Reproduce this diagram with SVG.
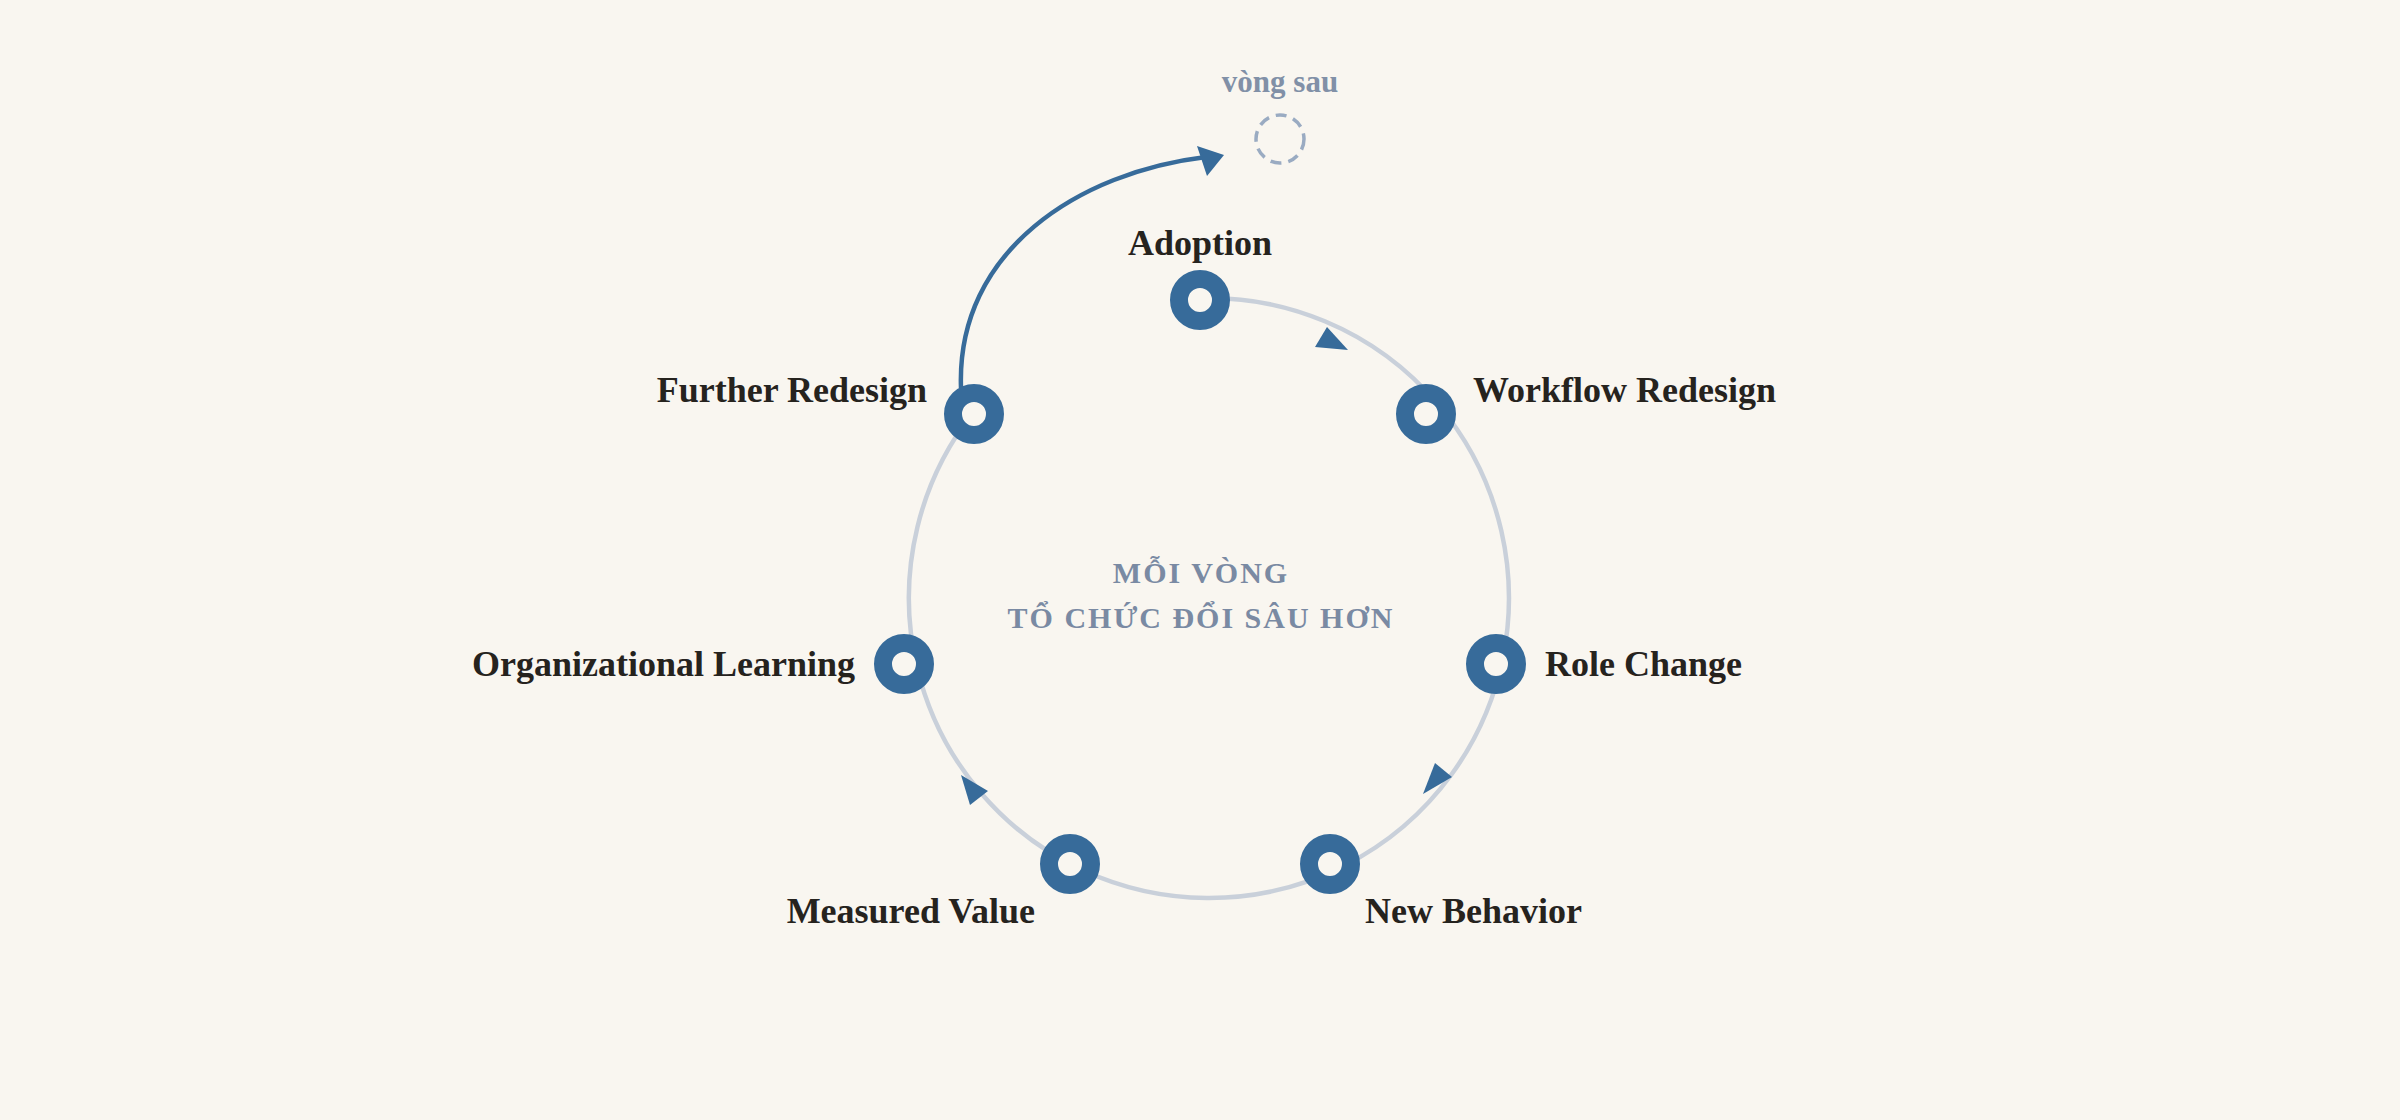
<svg xmlns="http://www.w3.org/2000/svg" width="2400" height="1120" viewBox="0 0 2400 1120">
  <style>
    .track { fill: none; stroke: #c9d0da; stroke-width: 4.5; }
    .lift { fill: none; stroke: #376b9a; stroke-width: 4.5; }
    .head { fill: #376b9a; }
    .ring { fill: #f9f6f0; stroke: #376b9a; stroke-width: 18; }
    .label { font-family: "Liberation Serif", "DejaVu Serif", serif; font-weight: 700; font-size: 36px; fill: #26231e; }
    .center { font-family: "Liberation Serif", "DejaVu Serif", serif; font-weight: 700; font-size: 30px; fill: #7a8aa3; letter-spacing: 2px; }
    .next { font-family: "Liberation Serif", "DejaVu Serif", serif; font-weight: 700; font-size: 31px; fill: #8190a7; }
    .ghost { fill: none; stroke: #9aabc2; stroke-width: 3.5; stroke-dasharray: 11 7; }
  </style>
  <rect x="0" y="0" width="2400" height="1120" fill="#f9f6f0"/>

  <g id="connectors">
    <!-- cycle track, clockwise from Adoption round to Further Redesign -->
    <path class="track" d="M 1200 298.1 A 300 300 0 1 1 972.8 412.9"/>
    <!-- direction heads on the track -->
    <polygon class="head" points="1348,350 1315,347 1327,327"/>
    <polygon class="head" points="1423,794 1435,763 1452,777"/>
    <polygon class="head" points="961,775 988,791 970,805"/>
    <!-- lift into the next cycle -->
    <path class="lift" d="M 961 388 C 956 250, 1080 172, 1206 157"/>
    <polygon class="head" points="1224,155 1197,146 1207,176"/>
  </g>

  <g id="next-cycle">
    <circle class="ghost" cx="1280" cy="139" r="24"/>
    <text class="next" x="1280" y="92" text-anchor="middle">vòng sau</text>
  </g>

  <g id="center-caption">
    <text class="center" x="1201" y="583" text-anchor="middle">MỖI VÒNG</text>
    <text class="center" x="1201" y="628" text-anchor="middle">TỔ CHỨC ĐỔI SÂU HƠN</text>
  </g>

  <g id="node-adoption">
    <circle class="ring" cx="1200" cy="300" r="21"/>
    <text class="label" x="1200" y="255" text-anchor="middle">Adoption</text>
  </g>
  <g id="node-workflow-redesign">
    <circle class="ring" cx="1426" cy="414" r="21"/>
    <text class="label" x="1473" y="402">Workflow Redesign</text>
  </g>
  <g id="node-role-change">
    <circle class="ring" cx="1496" cy="664" r="21"/>
    <text class="label" x="1545" y="676">Role Change</text>
  </g>
  <g id="node-new-behavior">
    <circle class="ring" cx="1330" cy="864" r="21"/>
    <text class="label" x="1365" y="923">New Behavior</text>
  </g>
  <g id="node-measured-value">
    <circle class="ring" cx="1070" cy="864" r="21"/>
    <text class="label" x="1035" y="923" text-anchor="end">Measured Value</text>
  </g>
  <g id="node-organizational-learning">
    <circle class="ring" cx="904" cy="664" r="21"/>
    <text class="label" x="855" y="676" text-anchor="end">Organizational Learning</text>
  </g>
  <g id="node-further-redesign">
    <circle class="ring" cx="974" cy="414" r="21"/>
    <text class="label" x="927" y="402" text-anchor="end">Further Redesign</text>
  </g>
</svg>
